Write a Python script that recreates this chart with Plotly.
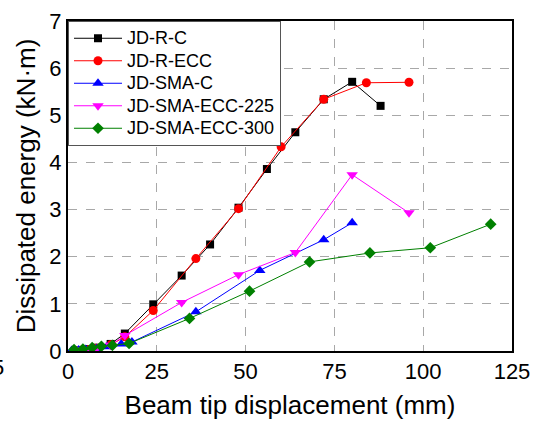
import plotly.graph_objects as go

series_names = ["JD-R-C", "JD-R-ECC", "JD-SMA-C", "JD-SMA-ECC-225", "JD-SMA-ECC-300"]

x_rc = [2, 4, 6, 8, 12, 16, 24, 32, 40, 48, 56, 64, 72, 80, 88]
y_rc = [0.01, 0.02, 0.04, 0.07, 0.15, 0.37, 0.99, 1.60, 2.26, 3.04, 3.86, 4.64, 5.34, 5.71, 5.20]

x_recc = [2, 4, 6, 8, 12, 16, 24, 36, 48, 60, 72, 84, 96]
y_recc = [0.01, 0.02, 0.03, 0.06, 0.13, 0.30, 0.86, 1.96, 3.02, 4.33, 5.34, 5.69, 5.70]

x_smac = [1, 3, 5, 8, 11, 15, 18, 36, 54, 72, 80]
y_smac = [0.01, 0.02, 0.03, 0.05, 0.09, 0.15, 0.19, 0.83, 1.71, 2.36, 2.72]

x_sma225 = [2, 4, 6, 8, 12, 16, 32, 48, 64, 80, 96]
y_sma225 = [0.01, 0.02, 0.03, 0.05, 0.12, 0.33, 1.03, 1.62, 2.09, 3.74, 2.93]

x_sma300 = [1.7, 4.2, 6.8, 9.4, 12.5, 17.2, 34.2, 51.1, 68, 85, 102, 119]
y_sma300 = [0.03, 0.04, 0.07, 0.10, 0.12, 0.16, 0.69, 1.27, 1.89, 2.08, 2.19, 2.69]

x_ticks = [0, 25, 50, 75, 100, 125]
y_ticks = [0, 1, 2, 3, 4, 5, 6, 7]

data = [
    (x_rc, y_rc, "black", "square", 8),
    (x_recc, y_recc, "red", "circle", 9),
    (x_smac, y_smac, "blue", "triangle-up", 10),
    (x_sma225, y_sma225, "#FF00FF", "triangle-down", 10),
    (x_sma300, y_sma300, "#008000", "diamond", 9),
]

fig = go.Figure()
for name, (xs, ys, col, sym, sz) in zip(series_names, data):
    fig.add_trace(go.Scatter(
        x=xs, y=ys,
        name='<span style="font-size:18px">' + name + '</span>',
        mode="lines+markers",
        line=dict(color=col, width=1),
        marker=dict(color=col, symbol=sym, size=sz, line=dict(width=0)),
    ))

font_family = "Liberation Sans, Arial, sans-serif"

fig.update_layout(
    width=534, height=421,
    margin=dict(l=68, r=22, t=21, b=70, pad=0),
    paper_bgcolor="white", plot_bgcolor="white",
    font=dict(family=font_family, color="black"),
    showlegend=True,
    legend=dict(
        x=0, y=1, xanchor="left", yanchor="top",
        bgcolor="white", bordercolor="#555555", borderwidth=1,
        font=dict(size=15, family=font_family),
        itemwidth=48, tracegroupgap=0,
    ),
    xaxis=dict(
        range=[0, 125], tickvals=x_ticks, ticks="", showline=True, mirror=True,
        linecolor="black", linewidth=2, automargin=False,
        showgrid=True, gridcolor="#a8a8a8", griddash="dash", gridwidth=1,
        zeroline=False, tickfont=dict(size=22),
        title=dict(text="Beam tip displacement (mm)", font=dict(size=26), standoff=12),
    ),
    yaxis=dict(
        range=[0, 7], tickvals=y_ticks, ticks="", showline=True, mirror=True,
        linecolor="black", linewidth=2, automargin=False,
        showgrid=True, gridcolor="#a8a8a8", griddash="dash", gridwidth=1,
        zeroline=False, tickfont=dict(size=22),
        title=dict(text="Dissipated energy (kN·m)", font=dict(size=26), standoff=6),
    ),
    annotations=[dict(
        text="5", xref="paper", yref="paper", x=-70/444, y=-0.05,
        xanchor="center", yanchor="middle", showarrow=False, font=dict(size=22),
    )],
)

fig.write_html(
    "out.html",
    config={"displayModeBar": False},
    post_script="document.body.style.margin='0';document.body.style.overflow='hidden';",
)
